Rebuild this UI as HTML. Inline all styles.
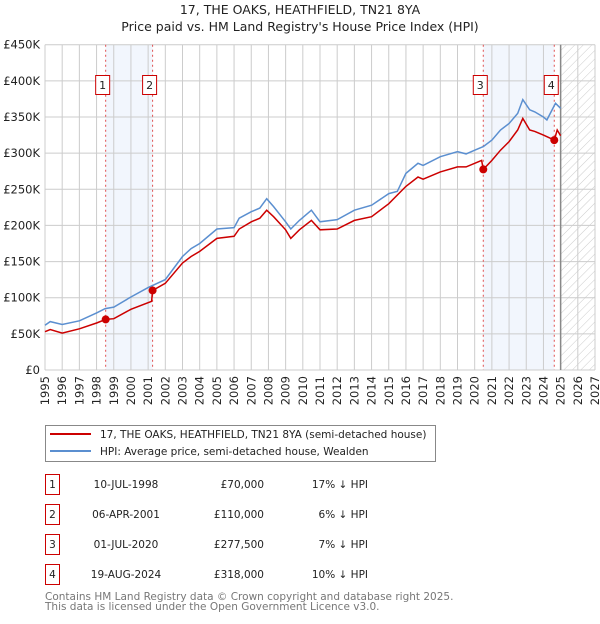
<!DOCTYPE html>
<html><head><meta charset="utf-8"><style>
body{margin:0;background:#fff;font-family:"DejaVu Sans","Liberation Sans",sans-serif;}
svg text{font-family:"DejaVu Sans","Liberation Sans",sans-serif;}
</style></head><body>
<svg id="chart" width="600" height="620" xmlns="http://www.w3.org/2000/svg">
<defs><pattern id="hatch" width="6" height="6" patternUnits="userSpaceOnUse" patternTransform="rotate(45)"><line x1="0" y1="0" x2="0" y2="6" stroke="#ccc" stroke-width="1"/></pattern></defs>
<text x="300" y="14" text-anchor="middle" font-size="12.5" fill="#222">17, THE OAKS, HEATHFIELD, TN21 8YA</text>
<text x="300" y="31" text-anchor="middle" font-size="12.5" fill="#222">Price paid vs. HM Land Registry's House Price Index (HPI)</text>
<g id="plot"></g>
<g id="legend">
<rect x="45.5" y="425.5" width="390" height="36" fill="#fff" stroke="#888"/>
<line x1="50" y1="434" x2="91" y2="434" stroke="#cc0000" stroke-width="2"/>
<text x="100" y="438" font-size="10.5" fill="#222">17, THE OAKS, HEATHFIELD, TN21 8YA (semi-detached house)</text>
<line x1="50" y1="451" x2="91" y2="451" stroke="#5b8fd0" stroke-width="2"/>
<text x="100" y="455" font-size="10.5" fill="#222">HPI: Average price, semi-detached house, Wealden</text>
</g>
<g id="table"></g>
<text x="45" y="600" font-size="10.5" fill="#777">Contains HM Land Registry data © Crown copyright and database right 2025.</text>
<text x="45" y="610" font-size="10.5" fill="#777">This data is licensed under the Open Government Licence v3.0.</text>
</svg>
<script>
const hpiYears=[1995,1995.3,1996,1997,1998,1998.5,1999,2000,2001,2002,2003,2003.5,2004,2005,2006,2006.3,2007,2007.5,2007.9,2008.3,2009,2009.3,2009.8,2010.5,2011,2012,2013,2014,2015,2015.5,2016,2016.7,2017,2018,2019,2019.5,2020,2020.5,2021,2021.5,2022,2022.5,2022.8,2023.2,2023.5,2024,2024.2,2024.7,2025];
const hpiValues=[62,67,63,68,79,85,87,101,114,125,157,168,175,195,197,210,219,224,237,226,205,195,207,221,205,208,221,228,244,247,272,286,283,295,302,299,304,309,318,332,341,355,374,360,357,350,346,369,362];
const propYears=[1995,1995.3,1996,1997,1998,1998.53,1999,2000,2001.2,2001.26,2002,2003,2003.5,2004,2005,2006,2006.3,2007,2007.5,2007.9,2008.3,2009,2009.3,2009.8,2010.5,2011,2012,2013,2014,2015,2016,2016.7,2017,2018,2019,2019.5,2020,2020.4,2020.5,2021,2021.5,2022,2022.5,2022.8,2023.2,2023.5,2024,2024.63,2024.8,2025];
const propValues=[53,56,51,57,65,70,71,84,95,110,120,148,157,164,182,185,195,205,210,221,212,194,182,194,207,194,195,207,212,230,254,267,264,274,281,281,286,290,277.5,290,304,316,332,348,332,330,325,318,332,324];
const saleLabels=["1","2","3","4"];
const saleYears=[1998.53,2001.26,2020.5,2024.63];
const saleDates=["10-JUL-1998","06-APR-2001","01-JUL-2020","19-AUG-2024"];
const salePrices=[70,110,277.5,318];
const salePriceText=["£70,000","£110,000","£277,500","£318,000"];
const saleHpiText=["17% ↓ HPI","6% ↓ HPI","7% ↓ HPI","10% ↓ HPI"];
const yTicks=[0,50,100,150,200,250,300,350,400,450];
const yTickLabels=["£0","£50K","£100K","£150K","£200K","£250K","£300K","£350K","£400K","£450K"];
const xTicks=[1995,1996,1997,1998,1999,2000,2001,2002,2003,2004,2005,2006,2007,2008,2009,2010,2011,2012,2013,2014,2015,2016,2017,2018,2019,2020,2021,2022,2023,2024,2025,2026,2027];

const X0=45,X1=595,Y0=370,Y1=44.7;
const xs=y=>X0+(y-1995)/(2027-1995)*(X1-X0);
const ys=v=>Y0-v/450*(Y0-Y1);
const NS="http://www.w3.org/2000/svg";
const plot=document.getElementById('plot');
function mk(tag,attrs,parent){const e=document.createElementNS(NS,tag);for(const k in attrs)e.setAttribute(k,attrs[k]);(parent||plot).appendChild(e);return e;}

for(let i=0;i<saleYears.length;i+=2){
  const r=mk('rect',{x:xs(saleYears[i]),y:Y1,width:xs(saleYears[i+1])-xs(saleYears[i]),height:Y0-Y1,fill:'#f2f6fd'});
  
  
}
const hr=mk('rect',{x:xs(2025),y:Y1,width:X1-xs(2025),height:Y0-Y1,fill:'url(#hatch)'});


xTicks.forEach(t=>{
  const l=mk('line',{x1:xs(t),x2:xs(t),y1:Y1,y2:Y0,stroke:'#ccc','stroke-width':1});
  
  
  const tx=mk('text',{x:0,y:0,'font-size':11.5,fill:'#222','text-anchor':'end',transform:`translate(${xs(t)+4},${Y0+6}) rotate(-90)`});
  tx.textContent=t;
  
  
});
yTicks.forEach((t,i)=>{
  const l=mk('line',{x1:X0,x2:X1,y1:ys(t),y2:ys(t),stroke:'#ccc','stroke-width':1});
  
  
  const tx=mk('text',{x:40,y:ys(t)+4,'font-size':11.5,fill:'#222','text-anchor':'end'});
  tx.textContent=yTickLabels[i];
  
  
});
const nl=mk('line',{x1:xs(2025),x2:xs(2025),y1:Y1,y2:Y0,stroke:'#888','stroke-width':1.5});


saleYears.forEach(s=>{
  const l=mk('line',{x1:xs(s),x2:xs(s),y1:Y1,y2:Y0,stroke:'#e05050','stroke-width':1,'stroke-dasharray':'2,3'});
  
  
});
const pts=(a,b)=>a.map((y,i)=>xs(y).toFixed(1)+','+ys(b[i]).toFixed(1)).join(' ');
const h=mk('polyline',{points:pts(hpiYears,hpiValues),fill:'none',stroke:'#5b8fd0','stroke-width':1.5});


const p=mk('polyline',{points:pts(propYears,propValues),fill:'none',stroke:'#cc0000','stroke-width':1.5});


saleYears.forEach((s,i)=>{
  const c=mk('circle',{cx:xs(s),cy:ys(salePrices[i]),r:4,fill:'#cc0000'});
  
  
  const g=mk('g',{});
  
  
  mk('rect',{x:xs(s)-10,y:75.5,width:14,height:19,fill:'#fff',stroke:'#cc0000'},g);
  const t=mk('text',{x:xs(s)-3,y:89,'font-size':11,'text-anchor':'middle',fill:'#222'},g);
  t.textContent=saleLabels[i];
});
const tb=document.getElementById('table');
saleLabels.forEach((lab,i)=>{
  const y=483+i*30;
  const g=mk('g',{},tb);
  
  
  mk('rect',{x:45.5,y:y-8.5,width:14,height:20,fill:'#fff',stroke:'#cc0000'},g);
  const a=mk('text',{x:52.5,y:y+5,'font-size':10.5,'text-anchor':'middle',fill:'#222'},g);a.textContent=lab;
  const b=mk('text',{x:126,y:y+5,'font-size':10.5,'text-anchor':'middle',fill:'#222'},g);b.textContent=saleDates[i];
  const c=mk('text',{x:264,y:y+5,'font-size':10.5,'text-anchor':'end',fill:'#222'},g);c.textContent=salePriceText[i];
  const d=mk('text',{x:368,y:y+5,'font-size':10.5,'text-anchor':'end',fill:'#222'},g);d.textContent=saleHpiText[i];
});
</script>
</body></html>
